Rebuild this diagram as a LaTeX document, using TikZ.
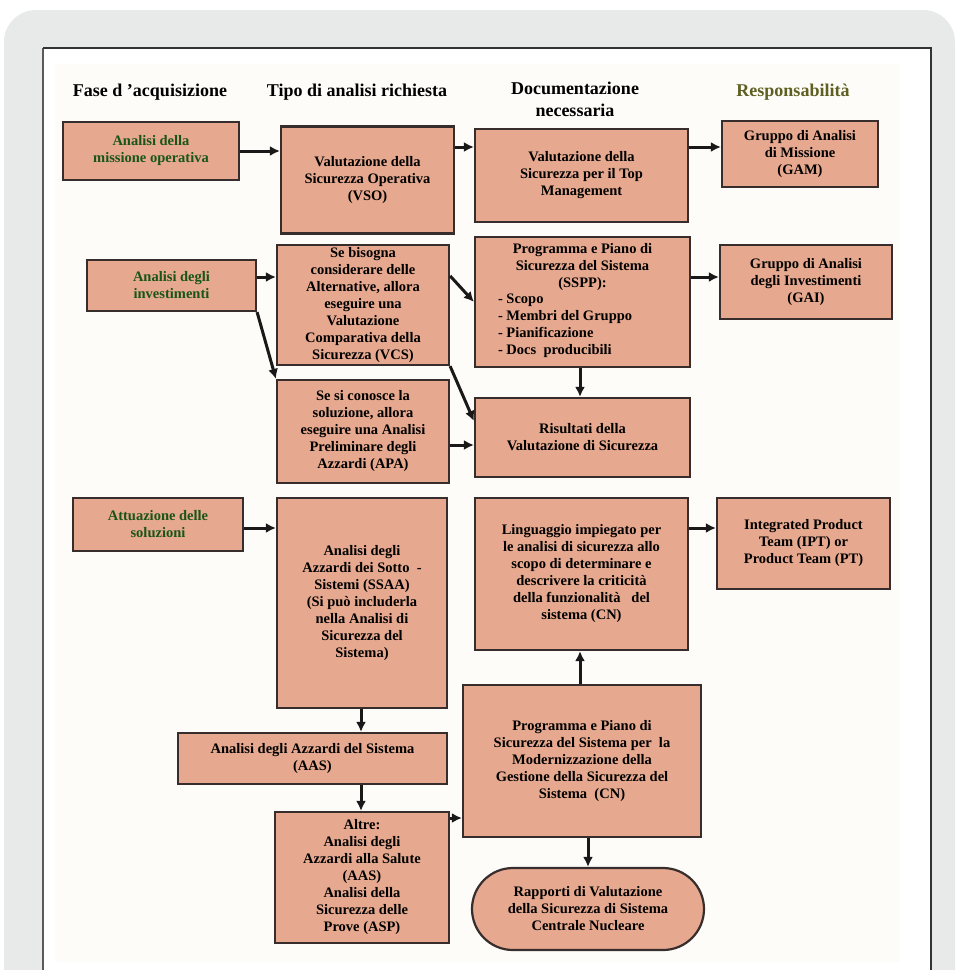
\documentclass[tikz,border=0pt]{standalone}
\usepackage{fontspec}
\setmainfont{Liberation Serif}
\usetikzlibrary{arrows.meta,calc,shapes.misc}

\definecolor{boxfill}{RGB}{230,168,142}
\definecolor{boxline}{RGB}{55,45,45}
\definecolor{phasegreen}{RGB}{25,85,25}
\definecolor{headolive}{RGB}{95,95,35}
\definecolor{framegray}{RGB}{232,234,234}
\definecolor{panelline}{RGB}{90,90,90}
\definecolor{paper}{RGB}{253,252,248}

\tikzset{
  box/.style={draw=boxline, fill=boxfill, line width=2.2pt, align=center,
    inner sep=2pt, font=\fontsize{14.5}{17}\selectfont\bfseries},
  phasebox/.style={box, text=phasegreen},
  head/.style={font=\fontsize{18}{22}\selectfont\bfseries, align=center},
  arr/.style={line width=3pt, draw=black!90, -{Latex[length=10pt,width=10pt]}},
}

\begin{document}
\begin{tikzpicture}[x=1pt,y=-1pt]
  % page and frame
  \clip (0,0) rectangle (958,970);
  \fill[white] (0,0) rectangle (958,970);
  \fill[framegray, rounded corners=32pt] (4,10) rectangle (955,1020);
  \fill[white] (43,48) rectangle (931,980);
  \fill[paper] (55,64) rectangle (900,962);
  \draw[panelline, line width=2.2pt] (43,980) -- (43,48);
  \draw[black!80, line width=1.4pt] (43,48) -- (931,48) -- (931,980);

  % column headings
  \node[head] (h1) at (150,92) {Fase d 'acquisizione};
  \node[head] (h2) at (357,92) {Tipo di analisi richiesta};
  \node[head] (h3) at (575,99) {Documentazione\\necessaria};
  \node[head, text=headolive] (h4) at (793,92) {Responsabilità};

  % row 1
  \node[phasebox, minimum width=176pt, minimum height=58pt] (A1) at (151,151)
    {Analisi della\\missione operativa};
  \node[box, minimum width=173pt, minimum height=107pt] (B1) at (367.5,180)
    {Valutazione della\\Sicurezza Operativa\\(VSO)};
  \node[box, minimum width=213pt, minimum height=93pt] (C1) at (581.5,175.5)
    {Valutazione della\\Sicurezza per il Top\\Management};
  \node[box, minimum width=156pt, minimum height=66pt] (D1) at (800,154)
    {Gruppo di Analisi\\di Missione\\(GAM)};

  % row 2
  \node[phasebox, minimum width=169pt, minimum height=51pt] (A2) at (171.5,285.5)
    {Analisi degli\\investimenti};
  \node[box, minimum width=172pt, minimum height=120pt] (B2) at (363,305)
    {Se bisogna\\considerare delle\\Alternative, allora\\eseguire una\\Valutazione\\Comparativa della\\Sicurezza (VCS)};
  \node[box, minimum width=215pt, minimum height=130pt] (C2) at (582.5,302)
    {Programma e Piano di\\Sicurezza del Sistema\\(SSPP):\\
     \makebox[209pt][l]{\hspace*{20pt}\begin{tabular}{@{}l@{}}- Scopo\\- Membri del Gruppo\\- Pianificazione\\- Docs\ \ producibili\end{tabular}}};
  \node[box, minimum width=172pt, minimum height=74pt] (D2) at (806,282)
    {Gruppo di Analisi\\degli Investimenti\\(GAI)};
  \node[box, minimum width=172pt, minimum height=103pt] (B3) at (363,431.5)
    {Se si conosce la\\soluzione, allora\\eseguire una Analisi\\Preliminare degli\\Azzardi (APA)};
  \node[box, minimum width=215pt, minimum height=79pt] (C3) at (582.5,437.5)
    {Risultati della\\Valutazione di Sicurezza};

  % row 3
  \node[phasebox, minimum width=170pt, minimum height=53pt] (A3) at (158,524.5)
    {Attuazione delle\\soluzioni};
  \node[box, minimum width=170pt, minimum height=210pt] (B4) at (362,603)
    {Analisi degli\\Azzardi dei Sotto \ -\\Sistemi (SSAA)\\(Si può includerla\\nella Analisi di\\Sicurezza del\\Sistema)};
  \node[box, minimum width=213pt, minimum height=152pt] (C4) at (581.5,574)
    {Linguaggio impiegato per\\le analisi di sicurezza allo\\scopo di determinare e\\descrivere la criticità\\della funzionalità \ \ del\\sistema (CN)};
  \node[box, minimum width=173pt, minimum height=91pt] (D4) at (803.5,543.5)
    {Integrated Product\\Team (IPT) or\\Product Team (PT)};
  \node[box, minimum width=269pt, minimum height=51pt] (B5) at (312.5,758.5)
    {Analisi degli Azzardi del Sistema\\(AAS)};
  \node[box, minimum width=174pt, minimum height=131pt] (B6) at (362,877.5)
    {Altre:\\Analisi degli\\Azzardi alla Salute\\(AAS)\\Analisi della\\Sicurezza delle\\Prove (ASP)};
  \node[box, minimum width=238pt, minimum height=152pt] (C5) at (582,761)
    {Programma e Piano di\\Sicurezza del Sistema per \ la\\Modernizzazione della\\Gestione della Sicurezza del\\Sistema \ (CN)};
  \node[box, rounded rectangle, minimum width=236pt, minimum height=82pt] (E) at (588,909)
    {Rapporti di Valutazione\\della Sicurezza di Sistema\\Centrale Nucleare};

  % connector levels
  \coordinate (y1) at (0,147);
  \coordinate (y2) at (0,277);
  \coordinate (y3) at (0,445);
  \coordinate (y4) at (0,528);
  \coordinate (y5) at (0,818);
  \coordinate (xb) at (361,0);
  \coordinate (xc) at (580,0);
  \coordinate (xe) at (588,0);

  % connectors
  \draw[arr] (A1.east) -- (A1.east -| B1.west);
  \draw[arr] (B1.east |- y1) -- (C1.west |- y1);
  \draw[arr] (C1.east |- y1) -- (D1.west |- y1);
  \draw[arr] (A2.east |- y2) -- (B2.west |- y2);
  \draw[arr] (A2.south east) -- (B3.north west);
  \draw[arr] ($(B2.north east)+(0,32)$) -- ($(C2.north west)+(0,66)$);
  \draw[arr] (B2.south east) -- ($(C3.north west)+(0,24)$);
  \draw[arr] (C2.east |- y2) -- (D2.west |- y2);
  \draw[arr] (C2.south -| xc) -- (C3.north -| xc);
  \draw[arr] (B3.east |- y3) -- (C3.west |- y3);
  \draw[arr] (A3.east |- y4) -- (B4.west |- y4);
  \draw[arr] (C4.east |- y4) -- (D4.west |- y4);
  \draw[arr] (B4.south -| xb) -- (B5.north -| xb);
  \draw[arr] (B5.south -| xb) -- (B6.north -| xb);
  \draw[arr] (B6.east |- y5) -- (C5.west |- y5);
  \draw[arr] (C5.north -| xc) -- (C4.south -| xc);
  \draw[arr] (C5.south -| xe) -- (E.north -| xe);
\end{tikzpicture}
\end{document}
